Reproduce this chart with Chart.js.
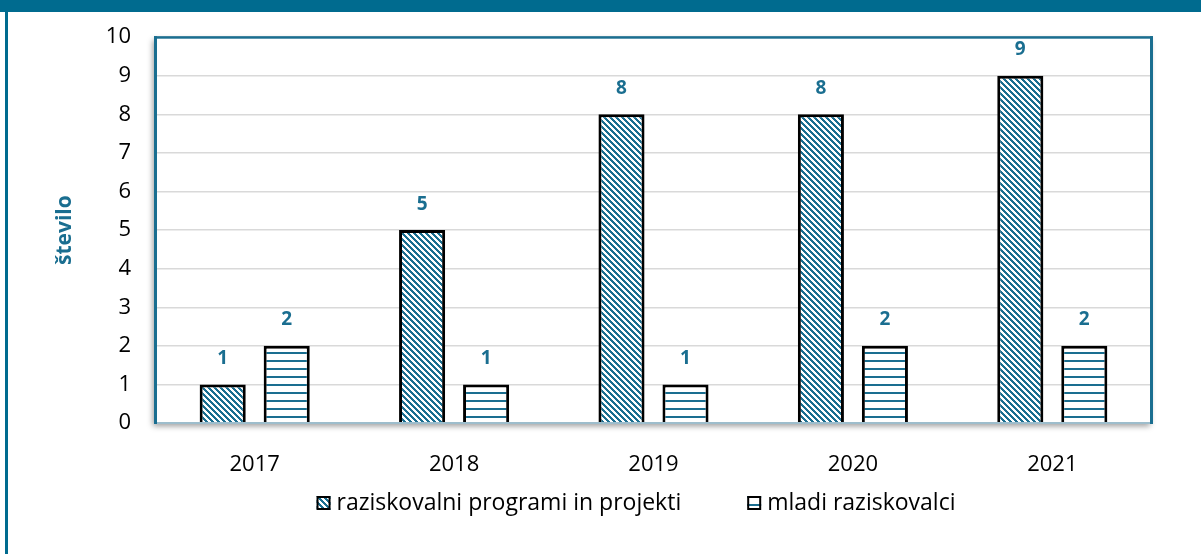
<!DOCTYPE html>
<html>
<head>
<meta charset="utf-8">
<script src="https://cdn.jsdelivr.net/npm/chart.js@4.4.1/dist/chart.umd.min.js"></script>
<style>
  html, body { margin: 0; padding: 0; background: #fff; }
  #wrap { position: relative; width: 1201px; height: 554px; overflow: hidden; }
  #band { position: absolute; left: 0; top: 0; width: 1201px; height: 12px; background: #006b8f; }
  #edge { position: absolute; left: 5px; top: 0; width: 3px; height: 554px; background: #006b8f; }
  canvas { position: absolute; left: 0; top: 0; }
</style>
</head>
<body>
<div id="wrap">
  <canvas id="chart" width="1201" height="554"></canvas>
  <div id="band"></div>
  <div id="edge"></div>
</div>
<script>
// podatki
const years = ['2017', '2018', '2019', '2020', '2021'];
const programi = [1, 5, 8, 8, 9];
const mladi = [2, 1, 1, 2, 2];
const seriesNames = ['raziskovalni programi in projekti', 'mladi raziskovalci'];
const yTitle = 'število';
const yMin = 0, yMax = 10, yStep = 1;

const TEAL = '#1a6e90';
const FONT = '"Open Sans", "Noto Sans", sans-serif';

const ctx = document.getElementById('chart').getContext('2d');

// šrafure
function diagPattern() {
    const c = document.createElement('canvas');
    c.width = 6; c.height = 6;
    const g = c.getContext('2d');
    g.fillStyle = '#fff';
    g.fillRect(0, 0, 6, 6);
    g.fillStyle = TEAL;
    for (let y = 0; y < 6; y++) {
        for (let x = 0; x < 6; x++) {
            if ((x - y + 6) % 6 < 3) g.fillRect(x, y, 1, 1);
        }
    }
    return ctx.createPattern(c, 'repeat');
}

function linePattern() {
    const c = document.createElement('canvas');
    c.width = 8; c.height = 8;
    const g = c.getContext('2d');
    g.fillStyle = '#fff';
    g.fillRect(0, 0, 8, 8);
    g.fillStyle = TEAL;
    g.fillRect(0, 0, 8, 2);
    return ctx.createPattern(c, 'repeat');
}

// okvir risalne površine s senco
const framePlugin = {
    id: 'frame',
    beforeDraw(chart) {
        const a = chart.chartArea, c = chart.ctx;
        c.save();
        c.shadowColor = 'rgba(0,0,0,0.4)';
        c.shadowBlur = 6;
        c.shadowOffsetX = -2;
        c.shadowOffsetY = 3;
        c.fillStyle = '#fff';
        c.fillRect(a.left, a.top, a.right - a.left, a.bottom - a.top);
        c.restore();
    },
    afterDraw(chart) {
        const a = chart.chartArea, c = chart.ctx;
        c.save();
        c.fillStyle = '#9dbdcc';
        c.fillRect(a.left, a.bottom - 1, a.right - a.left, 2);
        c.fillStyle = TEAL;
        c.fillRect(a.left - 1, a.top - 1, a.right - a.left + 2, 2.5);
        c.fillRect(a.left - 1, a.top - 1, 3, a.bottom - a.top + 2);
        c.fillRect(a.right - 2, a.top - 1, 3, a.bottom - a.top + 2);
        c.restore();
    }
};

// vrednosti nad stolpci
const labelPlugin = {
    id: 'barLabels',
    afterDatasetsDraw(chart) {
        const c = chart.ctx;
        c.save();
        c.fillStyle = TEAL;
        c.font = 'bold 19px ' + FONT;
        c.textAlign = 'center';
        c.textBaseline = 'middle';
        chart.data.datasets.forEach((ds, i) => {
            chart.getDatasetMeta(i).data.forEach((el, j) => {
                c.fillText(ds.data[j], el.x, el.y - 26);
            });
        });
        c.restore();
    }
};

// legenda
const legendPlugin = {
    id: 'customLegend',
    afterDraw(chart) {
        const c = chart.ctx;
        const box = 14, gap = 6, spacing = 66, cy = 503, cx = 636;
        c.save();
        c.font = '23px ' + FONT;
        const items = chart.data.datasets.map(ds => ({
            label: ds.label,
            fill: ds.backgroundColor,
            w: c.measureText(ds.label).width
        }));
        let total = spacing * (items.length - 1);
        items.forEach(it => total += box + gap + it.w);
        let x = cx - total / 2;
        items.forEach(it => {
            c.fillStyle = it.fill;
            c.fillRect(x, cy - box / 2, box, box);
            c.strokeStyle = '#000';
            c.lineWidth = 2;
            c.strokeRect(x + 1, cy - box / 2 + 1, box - 2, box - 2);
            c.fillStyle = '#000';
            c.textBaseline = 'middle';
            c.textAlign = 'left';
            c.fillText(it.label, x + box + gap, cy);
            x += box + gap + it.w + spacing;
        });
        c.restore();
    }
};

new Chart(ctx, {
    type: 'bar',
    data: {
        labels: years,
        datasets: [
            {
                label: seriesNames[0],
                data: programi,
                backgroundColor: diagPattern(),
                borderColor: '#000',
                borderWidth: 3,
            },
            {
                label: seriesNames[1],
                data: mladi,
                backgroundColor: linePattern(),
                borderColor: '#000',
                borderWidth: 3,
            },
        ],
    },
    options: {
        responsive: false,
        animation: false,
        categoryPercentage: 0.642,
        barPercentage: 0.72,
        layout: { padding: { left: 52, right: 49, top: 34, bottom: 0 } },
        plugins: {
            legend: { display: false },
            tooltip: { enabled: false },
        },
        scales: {
            x: {
                grid: { display: false },
                border: { display: false },
                ticks: { color: '#000', font: { family: FONT, size: 22 }, padding: 21 },
                afterFit(s) { s.height = 131; },
            },
            y: {
                min: yMin,
                max: yMax,
                ticks: { stepSize: yStep, color: '#000', font: { family: FONT, size: 22 }, padding: 24 },
                grid: { color: '#d9d9d9', lineWidth: 1.5, drawTicks: false },
                border: { display: false },
                title: {
                    display: true,
                    text: yTitle,
                    color: TEAL,
                    font: { family: FONT, size: 21, weight: 'bold' },
                    padding: 0,
                },
                afterFit(s) { s.width = 155 - 52; },
            },
        },
    },
    plugins: [framePlugin, labelPlugin, legendPlugin],
});
</script>
</body>
</html>
